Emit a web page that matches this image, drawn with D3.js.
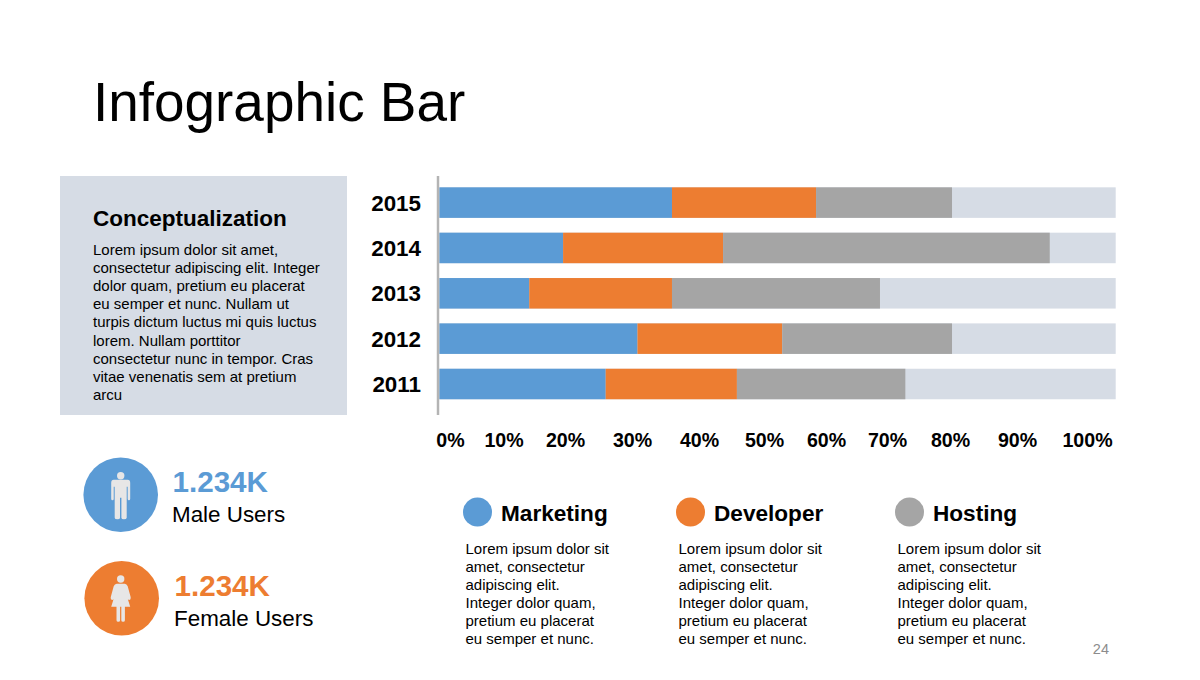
<!DOCTYPE html>
<html lang="en">
<head>
    <meta charset="UTF-8">
    <title>Infographic Bar</title>
    <script src="https://d3js.org/d3.v7.min.js"></script>
    <style>
        body { margin: 0; background: #fff; }
        svg { display: block; }
        text { font-family: "Liberation Sans", Arial, sans-serif; fill: #000; }
        .axis text { font-weight: bold; }
        .axis path, .axis line { display: none; }
    </style>
</head>
<body>
    <div id="chart-container"></div>

    <script>
        // Chart values, in percent
        const years = ["2015", "2014", "2013", "2012", "2011"];
        const marketing = [34.4, 18.3, 13.3, 29.3, 24.6];
        const developer = [21.3, 23.65, 21.1, 21.4, 19.4];
        const hosting = [20.1, 48.3, 30.75, 25.1, 24.9];
        const tickValues = [0, 10, 20, 30, 40, 50, 60, 70, 80, 90, 100];
        // The slide's % labels are separate text boxes and don't sit on the real scale
        const tickLabelX = [450, 503.5, 565, 632, 699, 764, 826, 887, 950, 1017, 1087];

        const seriesNames = ["Marketing", "Developer", "Hosting"];
        const seriesColors = ["#5b9bd5", "#ed7d31", "#a5a5a5"];
        const trackColor = "#d6dce5";

        const panelTitle = "Conceptualization";
        const panelLines = [
            "Lorem ipsum dolor sit amet,",
            "consectetur adipiscing elit. Integer",
            "dolor quam, pretium eu placerat",
            "eu semper et nunc. Nullam ut",
            "turpis dictum luctus mi quis luctus",
            "lorem. Nullam porttitor",
            "consectetur nunc in tempor. Cras",
            "vitae venenatis sem at pretium",
            "arcu"
        ];
        const legendLines = [
            "Lorem ipsum dolor sit",
            "amet, consectetur",
            "adipiscing elit.",
            "Integer dolor quam,",
            "pretium eu placerat",
            "eu semper et nunc."
        ];

        const svg = d3.select("#chart-container")
            .append("svg")
            .attr("width", 1200)
            .attr("height", 680);

        // Title
        svg.append("text")
            .attr("x", 93)
            .attr("y", 121)
            .attr("font-size", 54.9)
            .text("Infographic Bar");

        // Left text panel
        svg.append("rect")
            .attr("x", 60)
            .attr("y", 176)
            .attr("width", 287)
            .attr("height", 239)
            .attr("fill", trackColor);

        svg.append("text")
            .attr("x", 93)
            .attr("y", 226)
            .attr("font-size", 22.5)
            .attr("font-weight", "bold")
            .text(panelTitle);

        svg.selectAll(".panel-line")
            .data(panelLines)
            .enter()
            .append("text")
            .attr("class", "panel-line")
            .attr("x", 93)
            .attr("y", (d, i) => 255 + i * 18.1)
            .attr("font-size", 15)
            .text(d => d);

        // Scales
        const x = d3.scaleLinear().domain([0, 100]).range([439.3, 1115.7]);
        const y = d3.scaleBand()
            .domain(years)
            .range([179.9, 406.7])
            .paddingInner(0.327)
            .paddingOuter(0.164);
        const labelX = d3.scaleLinear().domain(tickValues).range(tickLabelX);

        const rows = years.map((year, i) => ({
            year,
            Marketing: marketing[i],
            Developer: developer[i],
            Hosting: hosting[i]
        }));
        const stacked = d3.stack().keys(seriesNames)(rows);

        // Pale track behind each bar
        svg.selectAll(".track")
            .data(years)
            .enter()
            .append("rect")
            .attr("class", "track")
            .attr("x", x(0))
            .attr("y", d => y(d))
            .attr("width", x(100) - x(0))
            .attr("height", y.bandwidth())
            .attr("fill", trackColor);

        // Stacked segments
        svg.selectAll(".series")
            .data(stacked)
            .enter()
            .append("g")
            .attr("class", "series")
            .attr("fill", (d, i) => seriesColors[i])
            .selectAll("rect")
            .data(d => d)
            .enter()
            .append("rect")
            .attr("x", d => x(d[0]))
            .attr("y", d => y(d.data.year))
            .attr("width", d => x(d[1]) - x(d[0]))
            .attr("height", y.bandwidth());

        // Vertical axis line
        svg.append("line")
            .attr("x1", 438)
            .attr("x2", 438)
            .attr("y1", 176)
            .attr("y2", 415)
            .attr("stroke", "#b4b4b4")
            .attr("stroke-width", 2.5);

        // Year labels
        const yAxis = svg.append("g")
            .attr("class", "axis")
            .attr("transform", "translate(421,1)")
            .call(d3.axisLeft(y).tickSize(0).tickPadding(0));
        yAxis.selectAll("text").attr("font-size", 22.4).attr("font-family", null);

        // Percent labels
        const xAxis = svg.append("g")
            .attr("class", "axis")
            .attr("transform", "translate(0,433)")
            .call(d3.axisBottom(labelX)
                .tickValues(tickValues)
                .tickFormat(d => d + "%")
                .tickSize(0)
                .tickPadding(0));
        xAxis.selectAll("text").attr("font-size", 19.6).attr("font-family", null);

        // User stats
        const malePath = "M-7,-15H7Q9.5,-15 9.5,-12V4Q9.5,5.5 8.2,5.5Q7,5.5 7,4V-8H6V23Q6,24.5 3.2,24.5Q.7,24.5 .7,23V3H-.7V23Q-.7,24.5 -3.2,24.5Q-6,24.5 -6,23V-8H-7V4Q-7,5.5 -8.2,5.5Q-9.5,5.5 -9.5,4V-12Q-9.5,-15 -7,-15Z";
        const femalePath = "M-4,-14.5H4Q6,-14.5 7,-12L10,-1Q10.4,1.5 8.5,1.8Q7.3,1.8 6.6,0L5,-6L9.5,8.5H4.2V22Q4.2,23.5 2.4,23.5Q.6,23.5 .6,22V8.5H-.6V22Q-.6,23.5 -2.4,23.5Q-4.2,23.5 -4.2,22V8.5H-9.5L-5,-6L-6.6,0Q-7.3,1.8 -8.5,1.8Q-10.4,1.5 -10,-1L-7,-12Q-6,-14.5 -4,-14.5Z";

        const users = [
            { value: "1.234K", label: "Male Users", color: seriesColors[0], cx: 120.7, cy: 494.7, path: malePath, headY: -19, iconDx: 0, valueX: 172.5, valueY: 492, labelX: 172, labelY: 522 },
            { value: "1.234K", label: "Female Users", color: seriesColors[1], cx: 121.7, cy: 598.3, path: femalePath, headY: -19.3, iconDx: -1, valueX: 174.5, valueY: 596, labelX: 174, labelY: 626 }
        ];

        users.forEach(u => {
            svg.append("circle")
                .attr("cx", u.cx)
                .attr("cy", u.cy)
                .attr("r", 37.3)
                .attr("fill", u.color);

            const icon = svg.append("g")
                .attr("transform", `translate(${u.cx + u.iconDx},${u.cy})`)
                .attr("fill", "#e7e6e6");
            icon.append("circle").attr("cy", u.headY).attr("r", 3.7);
            icon.append("path").attr("d", u.path);

            svg.append("text")
                .attr("x", u.valueX)
                .attr("y", u.valueY)
                .attr("font-size", 29.6)
                .attr("font-weight", "bold")
                .style("fill", u.color)
                .text(u.value);

            svg.append("text")
                .attr("x", u.labelX)
                .attr("y", u.labelY)
                .attr("font-size", 22.4)
                .text(u.label);
        });

        // Legend with description under each entry
        const legendX = [477.5, 690.5, 909.5];
        seriesNames.forEach((name, i) => {
            svg.append("circle")
                .attr("cx", legendX[i])
                .attr("cy", 512)
                .attr("r", 14.5)
                .attr("fill", seriesColors[i]);

            svg.append("text")
                .attr("x", legendX[i] + 23.5)
                .attr("y", 521)
                .attr("font-size", 22.6)
                .attr("font-weight", "bold")
                .text(name);

            svg.selectAll(".legend-line-" + i)
                .data(legendLines)
                .enter()
                .append("text")
                .attr("class", "legend-line-" + i)
                .attr("x", legendX[i] - 12)
                .attr("y", (d, j) => 553.5 + j * 18.1)
                .attr("font-size", 15)
                .text(d => d);
        });

        // Page number
        svg.append("text")
            .attr("x", 1109)
            .attr("y", 654)
            .attr("text-anchor", "end")
            .attr("font-size", 14.5)
            .style("fill", "#8c8c8c")
            .text("24");
    </script>
</body>
</html>
